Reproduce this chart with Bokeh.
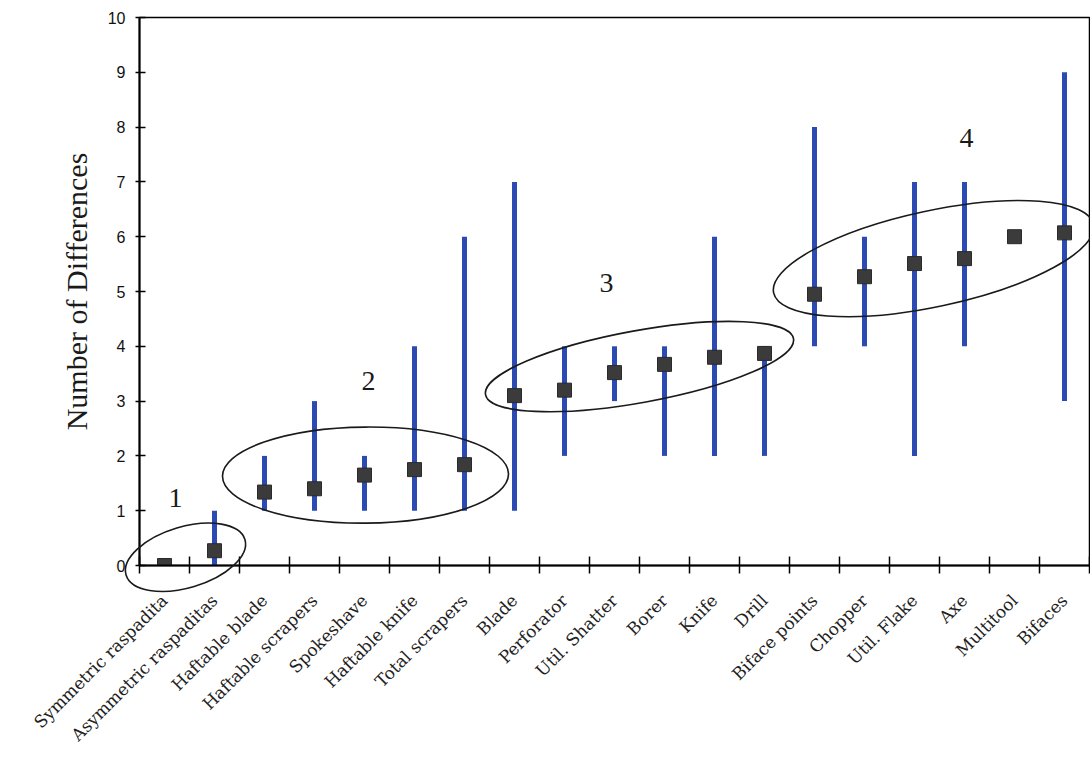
import numpy as np
from bokeh.plotting import figure
from bokeh.models import FixedTicker, Range1d, ColumnDataSource, Label
from bokeh.embed import file_html
from bokeh.resources import INLINE

# ---- data ----
categories = ["Symmetric raspadita", "Asymmetric raspaditas", "Haftable blade",
              "Haftable scrapers", "Spokeshave", "Haftable knife", "Total scrapers",
              "Blade", "Perforator", "Util. Shatter", "Borer", "Knife", "Drill",
              "Biface points", "Chopper", "Util. Flake", "Axe", "Multitool", "Bifaces"]
mean_diff = [0.00, 0.27, 1.34, 1.40, 1.65, 1.75, 1.84, 3.10, 3.20, 3.52, 3.67,
             3.80, 3.87, 4.95, 5.27, 5.51, 5.60, 6.00, 6.07]
min_diff = [0, 0, 1, 1, 1, 1, 1, 1, 2, 3, 2, 2, 2, 4, 4, 2, 4, 6, 3]
max_diff = [0, 1, 2, 3, 2, 4, 6, 7, 4, 4, 4, 6, 4, 8, 6, 7, 7, 6, 9]
y_ticks = [0, 1, 2, 3, 4, 5, 6, 7, 8, 9, 10]

group_names = ["1", "2", "3", "4"]

# category positions on a numeric axis: centred between the boundary ticks
xs = [i + 0.5 for i in range(len(categories))]

src = ColumnDataSource(dict(x=xs, cat=categories, mean=mean_diff,
                            lo=min_diff, hi=max_diff))

p = figure(width=1090, height=756, output_backend="svg", toolbar_location=None,
           x_range=Range1d(0, len(categories)), y_range=Range1d(0, 10),
           min_border_left=139, min_border_top=17, min_border_right=1,
           min_border_bottom=191, background_fill_color="white",
           border_fill_color="white")

p.xgrid.visible = False
p.ygrid.visible = False
p.outline_line_color = "black"
p.outline_line_width = 1.5

# range bars
p.segment(x0="x", y0="lo", x1="x", y1="hi", source=src,
          line_color="#2b4bb3", line_width=5)
# mean markers
p.scatter(x="x", y="mean", source=src, marker="square", size=14,
          fill_color="#3b3b3b", line_color="#2a2a2a", line_width=1)

# group ellipses (annotation outlines, drawn above the frame clip)
ell_x = [0.92, 4.52, 10.0, 15.88]
ell_y = [0.15, 1.65, 3.63, 5.60]
ell_w = [124, 286, 313, 327]
ell_h = [61, 96, 72, 96]
ell_a = [16.6, 0.5, 10.3, 12.1]
p.ellipse(x=ell_x, y=ell_y, width=ell_w, height=ell_h, angle=ell_a,
          width_units="screen", height_units="screen", angle_units="deg",
          fill_color=None, line_color="#1a1a1a", line_width=1.6, level="overlay")

lab_x = [0.72, 4.58, 9.34, 16.54]
lab_y = [1.24, 3.36, 5.16, 7.81]
for gx, gy, gt in zip(lab_x, lab_y, group_names):
    p.add_layout(Label(x=gx, y=gy, text=gt, text_font="Liberation Serif",
                       text_font_size="28px", text_align="center",
                       text_baseline="middle", text_color="#1a1a1a"))

# x axis: labels at centres, tick marks at boundaries (minor ticks)
xa = p.xaxis[0]
xa.ticker = FixedTicker(ticks=xs, minor_ticks=list(range(len(categories) + 1)))
xa.major_label_overrides = {float(x): c for x, c in zip(xs, categories)}
xa.major_label_orientation = np.pi / 4
xa.major_label_text_font = "DejaVu Serif"
xa.major_label_text_font_size = "17px"
xa.major_label_text_color = "#222222"
xa.major_label_standoff = 24
xa.major_tick_line_color = None
xa.major_tick_in = 0
xa.major_tick_out = 0
xa.minor_tick_line_color = "black"
xa.minor_tick_line_width = 1.5
xa.minor_tick_in = 9
xa.minor_tick_out = 8
xa.axis_line_color = "black"
xa.axis_line_width = 2

ya = p.yaxis[0]
ya.ticker = FixedTicker(ticks=y_ticks)
ya.minor_tick_line_color = None
ya.major_tick_in = 6
ya.major_tick_out = 4
ya.major_tick_line_width = 1.5
ya.major_tick_line_color = "black"
ya.major_label_text_font = "Liberation Sans"
ya.major_label_text_font_size = "16px"
ya.major_label_text_color = "#111111"
ya.major_label_standoff = 10
ya.axis_line_color = "black"
ya.axis_line_width = 2
ya.axis_label = "Number of Differences"
ya.axis_label_text_font = "Liberation Serif"
ya.axis_label_text_font_size = "30px"
ya.axis_label_text_font_style = "normal"
ya.axis_label_text_color = "#1a1a1a"
ya.axis_label_standoff = 12

open("out.html", "w").write(file_html(p, INLINE))
